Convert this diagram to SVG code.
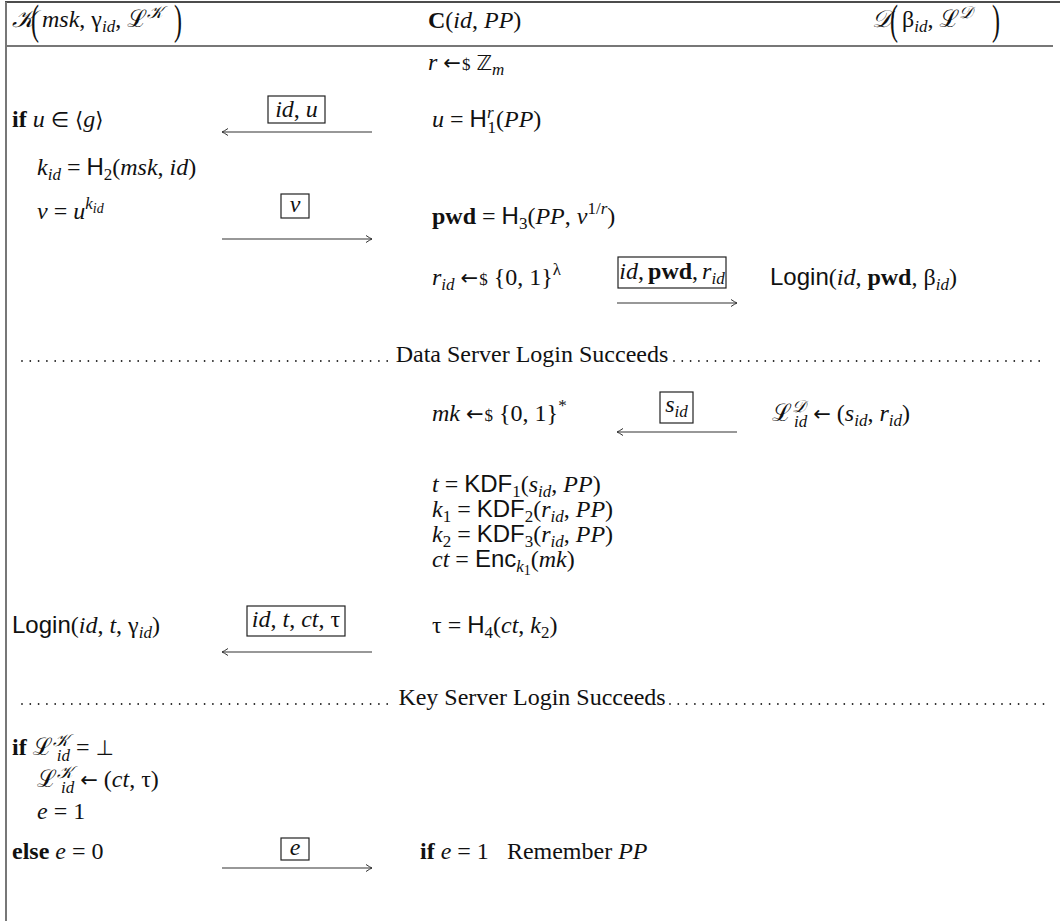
<svg xmlns="http://www.w3.org/2000/svg" width="1060" height="921" viewBox="0 0 1060 921">
<defs>
<style>
text{font-family:"Liberation Serif","DejaVu Serif",serif;font-size:24px;fill:#111}
.i{font-style:italic}
.b{font-weight:bold}
.sf{font-family:"Liberation Sans","DejaVu Sans",sans-serif}
.sym{font-family:"DejaVu Sans","Liberation Sans",sans-serif;font-size:21px}
.cal{font-family:"DejaVu Serif","Noto Sans","DejaVu Sans",serif;font-style:italic}
.s{font-size:17px}
.sm{font-size:14px}
.frame{stroke:#777;stroke-width:2;fill:none}
.box{stroke:#222;stroke-width:1.2;fill:none}
.arr{stroke:#333;stroke-width:1.2;fill:none;marker-end:url(#ah)}
.dots{stroke:#222;stroke-width:1.8;stroke-linecap:round;stroke-dasharray:0 8.3;fill:none}
.paren{font-size:24px}
</style>
<marker id="ah" viewBox="-8 -5 10 10" refX="0" refY="0" markerWidth="10" markerHeight="10" markerUnits="userSpaceOnUse" orient="auto">
<path d="M-6,-3.5 Q-2,-0.8 0,0 Q-2,0.8 -6,3.5" fill="none" stroke="#333" stroke-width="1"/>
</marker>
</defs>
<rect width="1060" height="921" fill="#fff"/>
<g id="frame">
<line x1="5" y1="2" x2="1060" y2="2" stroke="#111" stroke-width="1.6"/>
<line x1="6" y1="2" x2="6" y2="921" class="frame"/>
<line x1="5" y1="46" x2="1053" y2="46" class="frame"/>
</g>
<g id="party-K">
<text x="12" y="27"><tspan class="cal">𝒦</tspan></text>
<text class="paren" transform="translate(31,34) scale(1,1.75)">(</text>
<text x="42" y="27"><tspan class="i">msk</tspan>, γ<tspan class="i s" dy="5">id</tspan><tspan dy="-5">, </tspan><tspan class="cal">ℒ</tspan><tspan class="cal s" dy="-9">𝒦</tspan></text>
<text class="paren" transform="translate(174,34) scale(1,1.75)">)</text>
<text x="12" y="127"><tspan class="b">if</tspan> <tspan class="i">u</tspan><tspan class="sym" dx="6">∈</tspan><tspan class="sym" dx="6">⟨</tspan><tspan class="i">g</tspan><tspan class="sym">⟩</tspan></text>
<text x="37" y="175"><tspan class="i">k</tspan><tspan class="i s" dy="5">id</tspan><tspan dy="-5"> = </tspan><tspan class="sf">H</tspan><tspan class="s" dy="5">2</tspan><tspan dy="-5">(</tspan><tspan class="i">msk</tspan>, <tspan class="i">id</tspan>)</text>
<text x="37" y="219"><tspan class="i">v</tspan> = <tspan class="i">u</tspan><tspan class="i s" dy="-10">k</tspan><tspan class="i sm" dy="4">id</tspan></text>
<text x="12" y="633"><tspan class="sf">Login</tspan>(<tspan class="i">id</tspan>, <tspan class="i">t</tspan>, γ<tspan class="i s" dy="5">id</tspan><tspan dy="-5">)</tspan></text>
<text x="12" y="755"><tspan class="b">if</tspan> <tspan class="cal">ℒ</tspan><tspan class="cal s" dy="-9">𝒦</tspan><tspan class="i s" dx="-12" dy="15">id</tspan><tspan dy="-6"> = </tspan><tspan class="sym">⊥</tspan></text>
<text x="37" y="787"><tspan class="cal">ℒ</tspan><tspan class="cal s" dy="-9">𝒦</tspan><tspan class="i s" dx="-12" dy="15">id</tspan><tspan dy="-6"> </tspan><tspan class="sym">←</tspan> (<tspan class="i">ct</tspan>, τ)</text>
<text x="37" y="819"><tspan class="i">e</tspan> = 1</text>
<text x="12" y="859"><tspan class="b">else</tspan> <tspan class="i">e</tspan> = 0</text>
</g>
<g id="party-C">
<text x="428" y="28"><tspan class="b">C</tspan>(<tspan class="i">id</tspan>, <tspan class="i">PP</tspan>)</text>
<text x="428" y="70"><tspan class="i">r</tspan> <tspan class="sym">←</tspan><tspan class="s" dx="1">$</tspan> <tspan class="sym">ℤ</tspan><tspan class="i s" dy="5">m</tspan></text>
<text x="432" y="127"><tspan class="i">u</tspan> = <tspan class="sf">H</tspan><tspan class="i s" dy="-9">r</tspan><tspan class="s" dx="-6" dy="15">1</tspan><tspan dy="-6">(</tspan><tspan class="i">PP</tspan>)</text>
<text x="432" y="224"><tspan class="b">pwd</tspan> = <tspan class="sf">H</tspan><tspan class="s" dy="5">3</tspan><tspan dy="-5">(</tspan><tspan class="i">PP</tspan>, <tspan class="i">v</tspan><tspan class="s" dy="-10">1/</tspan><tspan class="i s">r</tspan><tspan dy="10">)</tspan></text>
<text x="432" y="285"><tspan class="i">r</tspan><tspan class="i s" dy="5">id</tspan><tspan dy="-5"> </tspan><tspan class="sym">←</tspan><tspan class="s" dx="1">$</tspan> {0, 1}<tspan class="s" dy="-10">λ</tspan></text>
<text x="432" y="421"><tspan class="i">mk</tspan> <tspan class="sym">←</tspan><tspan class="s" dx="1">$</tspan> {0, 1}<tspan class="s" dy="-10">*</tspan></text>
<text x="432" y="492"><tspan class="i">t</tspan> = <tspan class="sf">KDF</tspan><tspan class="s" dy="5">1</tspan><tspan dy="-5">(</tspan><tspan class="i">s</tspan><tspan class="i s" dy="5">id</tspan><tspan dy="-5">, </tspan><tspan class="i">PP</tspan>)</text>
<text x="432" y="517"><tspan class="i">k</tspan><tspan class="s" dy="5">1</tspan><tspan dy="-5"> = </tspan><tspan class="sf">KDF</tspan><tspan class="s" dy="5">2</tspan><tspan dy="-5">(</tspan><tspan class="i">r</tspan><tspan class="i s" dy="5">id</tspan><tspan dy="-5">, </tspan><tspan class="i">PP</tspan>)</text>
<text x="432" y="542"><tspan class="i">k</tspan><tspan class="s" dy="5">2</tspan><tspan dy="-5"> = </tspan><tspan class="sf">KDF</tspan><tspan class="s" dy="5">3</tspan><tspan dy="-5">(</tspan><tspan class="i">r</tspan><tspan class="i s" dy="5">id</tspan><tspan dy="-5">, </tspan><tspan class="i">PP</tspan>)</text>
<text x="432" y="567"><tspan class="i">ct</tspan> = <tspan class="sf">Enc</tspan><tspan class="i s" dy="5">k</tspan><tspan class="sm" dy="3">1</tspan><tspan dy="-8">(</tspan><tspan class="i">mk</tspan>)</text>
<text x="432" y="633">τ = <tspan class="sf">H</tspan><tspan class="s" dy="5">4</tspan><tspan dy="-5">(</tspan><tspan class="i">ct</tspan>, <tspan class="i">k</tspan><tspan class="s" dy="5">2</tspan><tspan dy="-5">)</tspan></text>
<text x="420" y="859"><tspan class="b">if</tspan> <tspan class="i">e</tspan> = 1<tspan dx="18">Remember </tspan><tspan class="i">PP</tspan></text>
</g>
<g id="party-D">
<text x="872" y="27"><tspan class="cal">𝒟</tspan></text>
<text class="paren" transform="translate(890,34) scale(1,1.75)">(</text>
<text x="902" y="27">β<tspan class="i s" dy="5">id</tspan><tspan dy="-5">, </tspan><tspan class="cal">ℒ</tspan><tspan class="cal s" dy="-9">𝒟</tspan></text>
<text class="paren" transform="translate(992,34) scale(1,1.75)">)</text>
<text x="770" y="285"><tspan class="sf">Login</tspan>(<tspan class="i">id</tspan>, <tspan class="b">pwd</tspan>, β<tspan class="i s" dy="5">id</tspan><tspan dy="-5">)</tspan></text>
<text x="772" y="421"><tspan class="cal">ℒ</tspan><tspan class="cal s" dy="-9">𝒟</tspan><tspan class="i s" dx="-12" dy="15">id</tspan><tspan dy="-6"> </tspan><tspan class="sym">←</tspan> (<tspan class="i">s</tspan><tspan class="i s" dy="5">id</tspan><tspan dy="-5">, </tspan><tspan class="i">r</tspan><tspan class="i s" dy="5">id</tspan><tspan dy="-5">)</tspan></text>
</g>
<g id="separators">
<line x1="22" y1="361" x2="392" y2="361" class="dots"/>
<text x="532" y="362" text-anchor="middle">Data Server Login Succeeds</text>
<line x1="674" y1="361" x2="1045" y2="361" class="dots"/>
<line x1="22" y1="704" x2="395" y2="704" class="dots"/>
<text x="532" y="705" text-anchor="middle">Key Server Login Succeeds</text>
<line x1="670" y1="704" x2="1045" y2="704" class="dots"/>
</g>
<g id="connectors">
<line x1="372" y1="132" x2="222" y2="132" class="arr"/>
<rect x="268" y="96" width="57" height="27" class="box"/>
<text x="296.5" y="117" text-anchor="middle"><tspan class="i">id</tspan>, <tspan class="i">u</tspan></text>
<line x1="222" y1="239" x2="372" y2="239" class="arr"/>
<rect x="281" y="194" width="28" height="24" class="box"/>
<text x="295" y="212" text-anchor="middle" class="i">v</text>
<line x1="617" y1="303" x2="737" y2="303" class="arr"/>
<rect x="618" y="257" width="108" height="31" class="box"/>
<text x="672" y="279" text-anchor="middle"><tspan class="i">id</tspan>,<tspan class="b" dx="4">pwd</tspan>,<tspan class="i" dx="4">r</tspan><tspan class="i s" dy="5">id</tspan></text>
<line x1="737" y1="432" x2="617" y2="432" class="arr"/>
<rect x="660" y="392" width="33" height="31" class="box"/>
<text x="676.5" y="412" text-anchor="middle"><tspan class="i">s</tspan><tspan class="i s" dy="5">id</tspan></text>
<line x1="372" y1="652" x2="222" y2="652" class="arr"/>
<rect x="247" y="606" width="98" height="30" class="box"/>
<text x="296" y="627" text-anchor="middle"><tspan class="i">id</tspan>, <tspan class="i">t</tspan>, <tspan class="i">ct</tspan>, τ</text>
<line x1="222" y1="868" x2="372" y2="868" class="arr"/>
<rect x="281" y="838" width="28" height="22" class="box"/>
<text x="295" y="855" text-anchor="middle" class="i">e</text>
</g>
</svg>
